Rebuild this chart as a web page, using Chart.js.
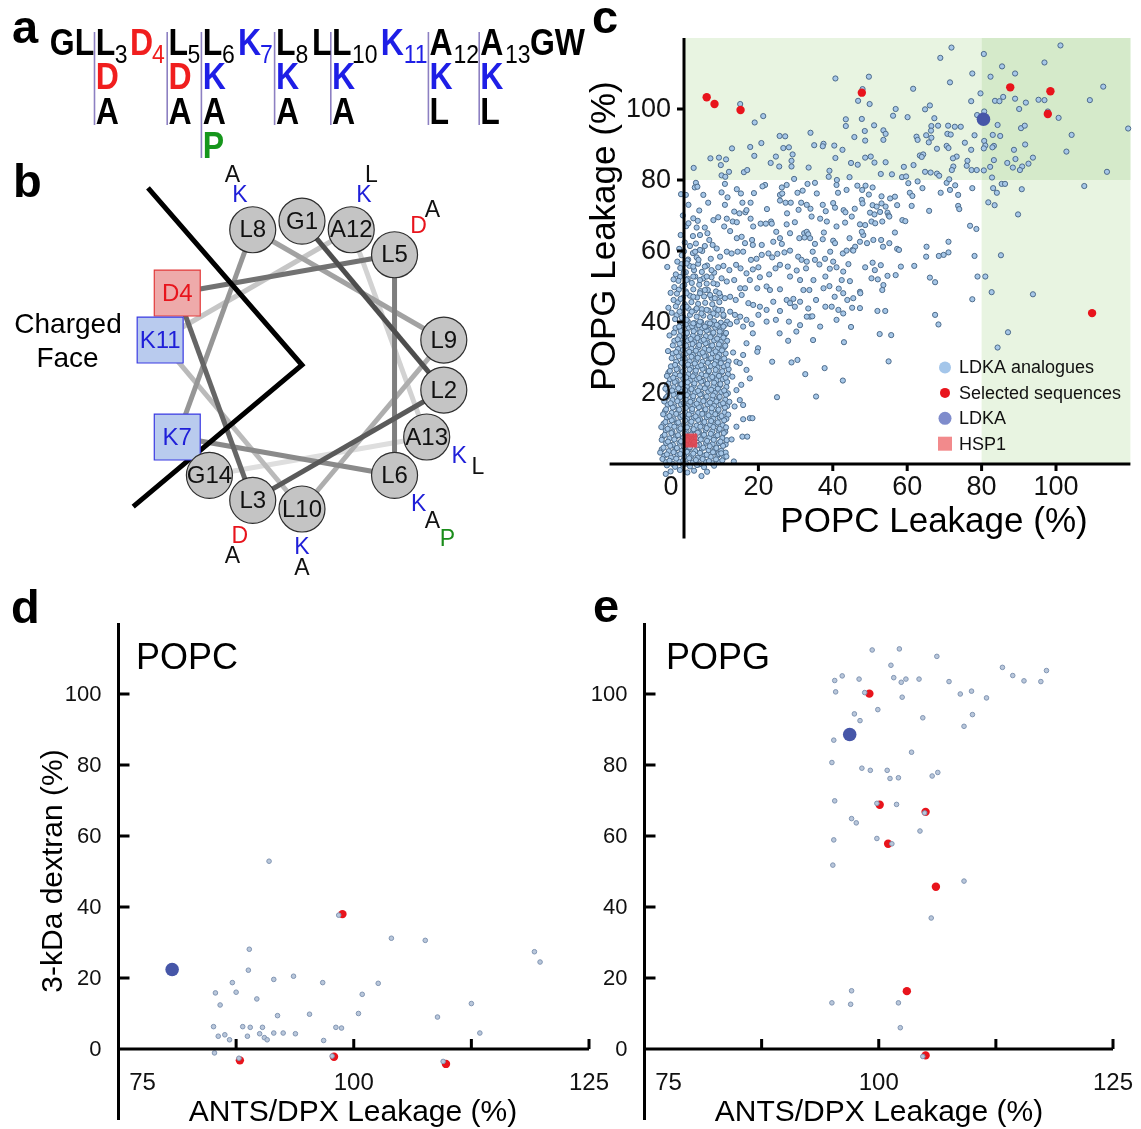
<!DOCTYPE html>
<html>
<head>
<meta charset="utf-8">
<title>LDKA analogues - membrane leakage</title>
<script src="https://cdn.jsdelivr.net/npm/chart.js@4.4.1/dist/chart.umd.min.js"></script>
<style>
  html, body { margin: 0; padding: 0; background: #fff; }
  body { position: relative; width: 1141px; height: 1129px; overflow: hidden;
         font-family: "Liberation Sans", Arial, Helvetica, sans-serif; }
  .panel { position: absolute; }
  #overlay { position: absolute; left: 0; top: 0; pointer-events: none; z-index: 2; }
</style>
</head>
<body>
<div class="panel" style="left:0;top:160px;width:520px;height:420px"><canvas id="wheel"></canvas></div>
<div class="panel" style="left:585px;top:0;width:556px;height:560px"><canvas id="scatterC"></canvas></div>
<div class="panel" style="left:0;top:590px;width:620px;height:539px"><canvas id="scatterD"></canvas></div>
<div class="panel" style="left:560px;top:590px;width:581px;height:539px"><canvas id="scatterE"></canvas></div>

<svg id="overlay" width="1141" height="1129" font-family="'Liberation Sans', Arial, sans-serif">
  <!-- panel letters -->
  <g font-weight="bold" font-size="47">
    <text x="12" y="43">a</text>
    <text x="13" y="197">b</text>
    <text x="592" y="33">c</text>
    <text x="11" y="623">d</text>
    <text x="593" y="622">e</text>
  </g>

  <!-- panel a : sequence and substitutions -->
  <g transform="scale(1,1.15)">
    <g stroke="#8d80c2" stroke-width="1.6">
      <line x1="94.5" y1="27.8" x2="94.5" y2="108.7"/>
      <line x1="167.2" y1="27.8" x2="167.2" y2="108.7"/>
      <line x1="201.4" y1="27.8" x2="201.4" y2="137.4"/>
      <line x1="274.6" y1="27.8" x2="274.6" y2="108.7"/>
      <line x1="330.8" y1="27.8" x2="330.8" y2="108.7"/>
      <line x1="428.4" y1="27.8" x2="428.4" y2="108.7"/>
      <line x1="479.2" y1="27.8" x2="479.2" y2="108.7"/>
    </g>
    <g font-weight="bold" font-size="32">
      <text x="49.8" y="47.8">GL</text>
      <text x="95.7" y="47.8">L</text>
      <text x="130" y="47.8" fill="#f01e1e">D</text>
      <text x="168.4" y="47.8">L</text>
      <text x="202.8" y="47.8">L</text>
      <text x="238" y="47.8" fill="#1e1ee6">K</text>
      <text x="276" y="47.8">L</text>
      <text x="312" y="47.8">L</text>
      <text x="332" y="47.8">L</text>
      <text x="380.8" y="47.8" fill="#1e1ee6">K</text>
      <text x="429.4" y="47.8">A</text>
      <text x="480.3" y="47.8">A</text>
      <text x="530" y="47.8">GW</text>

      <text x="95.7" y="77" fill="#f01e1e">D</text>
      <text x="168.4" y="77" fill="#f01e1e">D</text>
      <text x="202.8" y="77" fill="#1e1ee6">K</text>
      <text x="276" y="77" fill="#1e1ee6">K</text>
      <text x="332" y="77" fill="#1e1ee6">K</text>
      <text x="429.4" y="77" fill="#1e1ee6">K</text>
      <text x="480.3" y="77" fill="#1e1ee6">K</text>

      <text x="95.7" y="107.5">A</text>
      <text x="168.4" y="107.5">A</text>
      <text x="202.8" y="107.5">A</text>
      <text x="276" y="107.5">A</text>
      <text x="332" y="107.5">A</text>
      <text x="429.4" y="107.5">L</text>
      <text x="480.3" y="107.5">L</text>
    </g>
    <text x="202.8" y="137" font-weight="bold" font-size="32" fill="#16961c">P</text>
    <g font-size="23">
      <text x="114.8" y="54.8">3</text>
      <text x="152" y="54.8" fill="#f01e1e">4</text>
      <text x="187.5" y="54.8">5</text>
      <text x="222" y="54.8">6</text>
      <text x="260" y="54.8" fill="#1e1ee6">7</text>
      <text x="295.4" y="54.8">8</text>
      <text x="352" y="54.8">10</text>
      <text x="403.7" y="54.8" fill="#1e1ee6">11</text>
      <text x="453.5" y="54.8">12</text>
      <text x="505" y="54.8">13</text>
    </g>
  </g>

  <!-- panel b caption -->
  <g font-size="28" text-anchor="middle">
    <text x="68" y="333">Charged</text>
    <text x="67.5" y="367">Face</text>
  </g>

  <!-- axis titles -->
  <text transform="translate(615,236) rotate(-90)" text-anchor="middle" font-size="35">POPG Leakage (%)</text>
  <text x="934" y="532" text-anchor="middle" font-size="35">POPC Leakage (%)</text>
  <text transform="translate(62,871) rotate(-90)" text-anchor="middle" font-size="30">3-kDa dextran (%)</text>
  <text x="353" y="1121" text-anchor="middle" font-size="30">ANTS/DPX Leakage (%)</text>
  <text x="879" y="1121" text-anchor="middle" font-size="30">ANTS/DPX Leakage (%)</text>
  <text x="136" y="669" font-size="36">POPC</text>
  <text x="666" y="669" font-size="36">POPG</text>
</svg>

<script>
// ---------- panel b : helical wheel ----------
const wheelResidues = ["G1", "L2", "L3", "D4", "L5", "L6", "K7", "L8", "L9", "L10", "K11", "A12", "A13", "G14"];
const wheelAngles = [90, -10, -110, 150, 50, -50, -150, 110, 10, -90, 170, 70, -30, -130];
const chargedResidues = ["D4", "K7", "K11"];
const substitutions = {
  L3: ["D", "A"], L5: ["D", "A"], L6: ["K", "A", "P"], L8: ["K", "A"],
  L10: ["K", "A"], A12: ["K", "L"], A13: ["K", "L"]
};
const faceAngles = [131, 220];
const faceReach = [1.63, 1.53];

// ---------- panel c : POPC vs POPG leakage ----------
const popcTickLabels = [0, 20, 40, 60, 80, 100];
const popgTickLabels = [20, 40, 60, 80, 100];

const analoguesTop = [
  [71.9,117.3],[101.2,117.9],[80.6,115.5],[68.9,114.4],[96.9,113.1],[85.5,112.0],[89.0,110.0],[77.5,110.0],[82.4,109.1],[40.7,108.6],
  [49.7,109.1],[71.5,107.5],[61.6,105.7],[112.7,106.3],[79.7,104.4],[48.0,105.6],[85.8,103.4],[89.0,102.9],[95.3,102.6],[96.9,102.5],
  [109.1,102.5],[83.6,102.3],[84.8,102.2],[91.9,101.8],[77.2,102.2],[46.8,102.3],[15.1,101.4],[49.9,101.4],[66.1,101.0],[64.8,99.9],
  [90.1,100.0],[80.7,99.3],[56.9,100.0],[97.8,99.3],[21.3,98.0],[56.2,98.1],[60.1,97.7],[67.3,97.4],[78.8,98.3],[100.7,97.5],
  [43.5,97.1],[47.8,97.2],[19.0,96.2],[43.5,95.2],[51.1,95.4],[66.5,95.2],[68.3,95.3],[71.0,95.3],[72.8,95.0],[74.4,95.0],
  [84.3,95.5],[90.6,94.6],[91.6,95.3],[119.4,94.5],[48.6,93.8],[53.6,94.0],[66.4,93.9],[34.0,93.3],[25.7,92.4],[27.2,92.3],
  [54.2,93.0],[65.1,92.6],[70.8,93.0],[71.7,92.8],[78.1,92.6],[83.0,92.7],[85.0,92.4],[104.2,92.7],[45.8,92.1],[62.5,92.2],
  [66.5,91.9],[62.8,91.3],[48.7,91.1],[53.6,91.3],[65.8,90.6],[75.5,90.5],[80.7,91.0],[91.7,90.0],[37.5,90.2],[35.0,89.8],
  [37.3,89.5],[40.4,89.7],[12.9,88.9],[17.8,89.3],[20.8,90.4],[26.7,89.0],[28.2,89.2],[42.6,88.5],[68.0,88.8],[70.6,89.6],
  [71.1,89.0],[77.2,88.5],[81.0,89.7],[83.3,89.6],[88.7,88.5],[80.6,88.9],[82.9,89.2],[102.8,88.0],[29.2,87.2],[18.9,86.8],
  [24.7,86.6],[40.7,86.2],[48.7,86.3],[50.2,86.6],[63.4,86.9],[64.3,87.2],[63.9,86.5],[73.3,86.6],[72.3,86.1],[7.1,86.1],
  [9.4,86.3],[11.3,85.8],[23.3,84.8],[28.9,85.4],[44.9,84.8],[46.7,84.3],[51.2,84.9],[54.2,85.0],[76.2,85.4],[83.3,85.6],
  [86.9,84.8],[89.1,85.9],[93.8,86.3],[9.9,84.2],[25.6,83.8],[28.9,83.8],[33.5,83.5],[72.4,83.8],[76.0,84.0],[92.6,84.6],
  [90.9,83.8],[88.4,83.5],[2.6,83.4],[12.1,82.3],[16.1,82.2],[17.0,82.8],[39.1,82.6],[59.1,83.7],[61.7,84.2],[72.0,82.8],
  [77.3,82.8],[78.7,82.8],[80.6,82.7],[82.3,83.7],[90.3,82.8],[113.7,82.3],[10.1,81.3],[11.1,80.9],[38.9,80.9],[44.5,80.8],
  [41.1,80.0],[52.9,81.7],[55.9,81.6],[58.6,80.8],[59.7,81.0],[64.8,82.3],[66.3,82.1],[68.0,81.8],[68.6,81.2],[71.3,80.2],
  [82.8,80.7],[29.6,80.3]
];

const analoguesMid = [
  [3.2,79.2],[11.0,78.9],[21.8,78.6],[27.6,78.6],[26.3,77.9],[33.2,78.9],[35.2,79.2],[41.0,78.6],[46.6,78.4],[48.8,78.4],
  [50.7,77.9],[60.3,79.1],[62.8,79.6],[70.6,79.2],[72.9,78.5],[77.5,77.7],[83.1,77.7],[85.4,78.9],[86.3,78.9],[90.8,77.4],
  [107.6,78.3],[2.9,77.9],[3.6,78.1],[14.2,77.4],[18.8,76.3],[15.3,76.2],[10.1,76.5],[11.7,75.1],[21.1,78.2],[25.8,75.8],
  [26.4,76.2],[30.5,76.4],[31.9,77.0],[35.7,76.2],[41.4,76.4],[43.7,77.2],[47.9,77.2],[49.7,75.9],[53.1,75.4],[55.4,74.8],
  [56.7,75.3],[60.7,76.4],[61.4,75.5],[64.1,77.7],[69.0,76.4],[71.5,77.2],[73.7,75.8],[84.1,76.4],[0.5,75.8],[5.2,75.8],
  [6.5,73.6],[11.0,73.0],[15.7,73.6],[17.9,73.6],[25.8,74.2],[27.3,73.6],[28.7,73.6],[31.5,73.6],[33.0,73.0],[37.3,73.0],
  [40.1,73.5],[40.6,72.2],[47.8,74.4],[48.0,73.4],[50.7,72.9],[51.8,72.5],[53.1,73.4],[54.2,72.5],[57.3,72.9],[61.2,72.7],
  [73.7,72.7],[74.0,71.8],[81.8,73.7],[83.5,72.9],[4.1,71.4],[13.5,71.1],[14.9,70.6],[16.5,70.9],[16.8,71.5],[22.3,71.8],
  [27.7,70.6],[30.8,71.6],[34.0,71.9],[38.1,71.2],[42.9,71.5],[43.4,70.9],[45.9,71.9],[50.0,70.8],[51.2,70.3],[52.7,71.0],
  [54.7,70.8],[55.0,70.0],[65.9,71.3],[89.8,70.3],[2.5,69.2],[3.7,68.5],[1.2,67.8],[7.9,68.7],[9.2,69.5],[11.5,69.1],
  [13.1,68.3],[14.2,68.1],[17.9,69.1],[18.6,66.9],[20.6,67.7],[22.0,67.7],[23.4,68.3],[23.6,67.7],[24.8,65.4],[28.5,65.0],
  [29.8,68.1],[27.6,67.5],[32.3,65.0],[33.0,65.4],[33.4,64.7],[34.3,69.7],[36.6,69.1],[38.4,68.3],[41.0,66.9],[43.3,68.0],
  [45.1,69.7],[47.3,67.5],[48.7,67.3],[50.4,68.3],[51.4,67.8],[53.3,68.3],[55.2,69.7],[56.7,65.2],[58.7,68.7],[59.5,68.4],
  [76.9,67.1],[78.6,66.2],[3.4,66.6],[5.6,66.6],[4.3,64.5],[6.3,65.0],[10.8,66.9],[12.4,65.6],[14.2,63.6],[15.5,64.0],
  [16.4,62.2],[18.3,63.1],[18.5,61.7],[20.9,61.7],[24.0,62.6],[25.8,63.6],[26.3,62.0],[31.0,63.6],[32.4,63.8],[33.9,63.6],
  [35.2,62.0],[37.3,63.3],[37.6,65.2],[40.1,62.9],[40.6,62.2],[44.5,63.6],[45.3,60.3],[46.0,61.2],[47.3,62.6],[48.2,64.5],
  [47.8,65.4],[49.2,62.2],[50.9,63.1],[53.0,63.1],[53.5,61.2],[55.2,62.2],[57.3,60.6],[57.8,60.3],[65.2,61.2],[65.1,58.4],
  [68.5,58.6],[69.8,58.9],[71.1,59.6],[71.1,62.6],[78.1,58.6],[85.2,58.8],[1.6,61.4],[3.0,59.8],[4.3,60.3],[5.6,61.4],
  [6.8,63.1],[7.7,61.7],[8.8,60.7],[9.7,58.4],[11.5,59.8],[12.8,59.3],[14.4,59.8],[15.9,59.8],[18.0,57.5],[19.5,57.8],
  [20.9,58.9],[22.7,59.3],[23.7,58.2],[25.1,59.2],[27.0,59.6],[28.5,60.1],[30.7,58.4],[31.6,57.5],[33.0,57.0],[34.6,59.8],
  [35.2,57.5],[37.9,57.8],[39.3,59.8],[40.1,57.0],[42.7,59.3],[43.7,60.1],[44.2,56.3],[45.5,60.1],[48.7,55.4],[50.7,56.7],
  [51.3,54.6],[52.9,56.0],[54.7,53.0],[56.9,53.2],[58.3,55.6],[61.9,55.8],[66.1,52.5],[67.5,51.2],[78.9,52.8],[81.0,52.8],
  [0.7,56.5],[2.5,55.6],[3.9,57.5],[5.6,55.6],[7.4,54.6],[9.2,55.4],[10.6,55.8],[12.2,54.6],[14.0,56.1],[15.2,55.1],
  [16.8,53.7],[18.5,54.8],[20.0,55.4],[20.4,52.6],[22.9,53.4],[24.6,55.1],[25.8,56.1],[27.9,55.6],[28.5,52.8],[30.3,54.5],
  [31.2,51.8],[32.8,55.1],[34.8,51.8],[36.4,56.2],[38.0,52.8],[39.2,55.0],[41.0,55.4],[42.4,51.8],[42.8,54.2],[44.6,51.5],
  [47.3,48.5],[50.4,52.3],[52.1,52.0],[53.6,50.4],[0.7,51.8],[2.5,52.8],[4.3,51.8],[6.1,52.8],[7.9,50.9],[10.1,52.3],
  [11.5,51.4],[13.5,51.8],[15.1,49.5],[16.4,49.5],[17.7,51.8],[19.7,49.5],[22.2,50.0],[23.1,49.0],[25.8,49.2],[27.6,46.2],
  [29.4,46.5],[32.1,49.0],[33.7,49.0],[35.5,46.2],[37.5,49.5],[39.1,50.1],[40.5,47.1],[41.6,49.4],[42.8,48.1],[45.5,46.7],
  [47.3,43.9],[43.9,46.2],[47.4,48.1],[53.3,49.0],[82.7,48.4],[93.8,47.8],[77.5,46.4],[0.7,48.1],[2.5,47.1],[4.3,48.1],
  [5.6,49.0],[7.0,47.6],[8.3,46.7],[9.5,48.1],[11.0,46.7],[12.4,47.1],[13.9,46.2],[15.5,47.6],[17.3,45.3],[18.6,44.8],
  [20.4,44.3],[22.2,43.4],[24.0,45.7],[25.8,43.1],[28.5,45.3],[29.8,44.3],[31.2,45.7],[33.4,43.8],[33.9,41.5],[34.5,41.6],
  [38.0,44.3],[39.7,44.3],[41.5,43.4],[42.8,42.4],[45.2,44.0],[52.0,43.1],[54.1,43.1],[67.5,42.0],[68.4,39.3],[0.7,44.3],
  [2.1,42.9],[3.4,43.8],[4.7,42.4],[6.1,43.4],[7.9,42.4],[9.2,43.4],[10.6,42.0],[12.4,42.9],[13.7,42.0],[15.1,41.5],
  [16.8,40.6],[18.2,39.4],[20.0,42.0],[22.2,40.1],[24.7,40.6],[28.2,40.1],[31.2,39.1],[33.0,41.5],[36.6,38.7],[41.0,40.6],
  [44.9,38.6],[0.7,40.6],[2.5,39.6],[4.3,40.1],[5.6,38.7],[7.0,39.6],[8.8,39.2],[10.6,38.7],[12.4,39.4],[14.2,40.1],
  [15.9,38.7]
];

const analoguesCluster = [
  [-3.6,-2.1],[-1.1,-1.7],[0.9,-2.4],[2.7,-1.9],[6.2,-2.2],
  [-4.6,-0.4],[-2.4,-0.8],[-0.3,-0.2],[1.6,-0.7],[3.5,-0.3],[5.4,-0.9],[8.1,-0.5],
  [-5.8,1.4],[-3.9,0.9],[-2.1,1.5],[-0.2,1.0],[1.4,1.6],[3.2,1.1],[5.0,1.4],[6.7,0.8],[8.6,1.3],[10.3,1.0],
  [-6.4,3.2],[-4.6,2.7],[-2.8,3.3],[-1.0,2.8],[0.8,3.4],[2.5,2.9],[4.3,3.1],[6.1,2.6],[7.8,3.3],[9.4,2.8],[11.2,3.2],
  [-5.5,4.6],[-3.7,5.1],[-1.9,4.5],[-0.1,5.0],[1.6,4.7],[3.4,5.2],[5.2,4.6],[6.9,5.0],[8.7,4.5],[10.5,5.1],
  [-6.0,6.8],[-4.3,6.3],[-2.6,6.9],[-0.8,6.4],[0.9,6.7],[2.7,6.2],[4.5,6.9],[6.2,6.5],[8.0,6.8],[9.8,6.3],[11.5,6.7],
  [-5.2,8.2],[-3.4,8.7],[-1.6,8.1],[0.2,8.6],[1.9,8.3],[3.7,8.8],[5.4,8.2],[7.2,8.5],[9.0,8.1],[10.7,8.7],
  [-6.1,10.4],[-4.4,9.9],[-2.6,10.5],[-0.9,10.0],[0.8,10.3],[2.6,9.8],[4.4,10.5],[6.1,10.1],[7.9,10.4],[9.6,9.9],[11.3,10.3],
  [-5.0,11.8],[-3.3,12.3],[-1.5,11.7],[0.3,12.2],[2.0,11.9],[3.8,12.4],[5.5,11.8],[7.3,12.1],[9.1,11.7],[10.8,12.3],
  [-5.6,14.0],[-3.9,13.5],[-2.1,14.1],[-0.4,13.6],[1.3,13.9],[3.1,13.4],[4.9,14.1],[6.6,13.7],[8.4,14.0],[10.1,13.5],[11.9,13.9],
  [-4.8,15.4],[-3.0,15.9],[-1.3,15.3],[0.5,15.8],[2.2,15.5],[4.0,16.0],[5.8,15.4],[7.5,15.7],[9.3,15.3],[11.0,15.9],
  [-5.3,17.6],[-3.6,17.1],[-1.8,17.7],[-0.1,17.2],[1.7,17.5],[3.4,17.0],[5.2,17.7],[7.0,17.3],[8.7,17.6],[10.5,17.1],[12.2,17.5],
  [-4.5,19.0],[-2.8,19.5],[-1.0,18.9],[0.8,19.4],[2.5,19.1],[4.3,19.6],[6.1,19.0],[7.8,19.3],[9.6,18.9],[11.3,19.5],
  [-5.0,21.2],[-3.2,20.7],[-1.5,21.3],[0.3,20.8],[2.0,21.1],[3.8,20.6],[5.6,21.3],[7.3,20.9],[9.1,21.2],[10.8,20.7],
  [-4.2,22.6],[-2.5,23.1],[-0.7,22.5],[1.0,23.0],[2.8,22.7],[4.6,23.2],[6.3,22.6],[8.1,22.9],[9.8,22.5],[11.6,23.1],
  [-4.6,24.8],[-2.9,24.3],[-1.1,24.9],[0.6,24.4],[2.4,24.7],[4.1,24.2],[5.9,24.9],[7.6,24.5],[9.4,24.8],[11.2,24.3],
  [-3.8,26.2],[-2.0,26.7],[-0.3,26.1],[1.5,26.6],[3.2,26.3],[5.0,26.8],[6.7,26.2],[8.5,26.5],[10.3,26.1],[12.0,26.7],
  [-2.4,27.9],[-0.6,28.5],[1.1,28.0],[2.9,28.3],[4.6,27.8],[6.4,28.5],[8.2,28.1],[9.9,28.4],[11.7,27.9],
  [-3.3,29.8],[-1.5,30.3],[0.2,29.7],[2.0,30.2],[3.7,29.9],[5.5,30.4],[7.3,29.8],[9.0,30.1],[10.8,29.7],
  [-2.1,31.5],[-0.3,32.1],[1.4,31.6],[3.2,31.9],[5.0,31.4],[6.7,32.1],[8.5,31.7],[10.2,32.0],
  [-3.0,33.4],[-1.2,33.9],[0.6,33.3],[2.3,33.8],[4.1,33.5],[5.8,34.0],[7.6,33.4],[9.4,33.7],[11.1,33.3],
  [-1.7,35.1],[0.1,35.7],[1.8,35.2],[3.6,35.5],[5.3,35.0],[7.1,35.7],[8.9,35.3],[10.6,35.6],
  [-2.7,37.0],[-0.9,37.5],[0.8,36.9],[2.6,37.4],[4.4,37.1],[6.1,37.6],[7.9,37.0],[9.6,37.3],[11.3,36.9],
  [-1.3,38.7],[0.5,39.3],[2.2,38.8],[4.0,39.1],[5.8,38.6],[7.5,39.3],[9.2,38.9],[11.0,39.2],
  [-2.4,40.8],[-0.6,41.2],[-3.3,42.6],[-1.2,42.9],[-2.2,44.4],[-0.3,44.1],[-4.2,44.0],[-2.8,46.2],[-0.9,46.5],[-1.9,48.0],
  [-3.6,48.2],[-2.6,49.8],[-0.4,50.1],[-1.5,51.6],[-2.8,52.0],[-2.2,53.4],[-0.1,53.8],[-4.5,55.5],[-1.0,55.2],[-1.8,57.0],
  [0.9,57.3],[-0.6,58.8],[-1.3,60.6],[0.2,62.4],[3.2,62.1],[-0.9,64.5],[2.4,64.2],[0.6,67.0],[-0.3,70.0],[1.2,73.0],[-0.8,76.0]
];

const analoguesCore = [
  [-4.9,0.5],[-3.0,0.0],[-1.2,0.6],[0.6,0.1],[2.4,0.4],[4.1,-0.1],[5.9,0.5],[7.6,0.2],[9.3,0.6],
  [-5.3,2.3],[-3.5,1.8],[-1.7,2.5],[0.1,2.0],[1.9,2.2],[3.7,1.7],[5.5,2.4],[7.2,2.0],[9.0,2.3],[10.8,1.9],
  [-6.0,4.1],[-4.1,3.6],[-2.3,4.2],[-0.5,3.8],[1.3,4.1],[3.0,3.6],[4.8,4.3],[6.6,3.9],[8.3,4.0],[10.0,3.7],
  [-4.8,5.9],[-3.0,5.4],[-1.2,6.0],[0.6,5.5],[2.4,5.8],[4.1,5.4],[5.9,6.0],[7.7,5.6],[9.4,5.9],[11.2,5.5],
  [-5.7,7.7],[-3.9,7.2],[-2.1,7.8],[-0.3,7.3],[1.5,7.6],[3.2,7.2],[5.0,7.8],[6.8,7.4],[8.5,7.7],[10.3,7.3],
  [-4.9,9.5],[-3.1,9.0],[-1.3,9.6],[0.5,9.1],[2.3,9.4],[4.0,9.0],[5.8,9.6],[7.6,9.2],[9.3,9.5],[11.1,9.1],
  [-5.5,11.3],[-3.7,10.8],[-1.9,11.4],[-0.1,10.9],[1.7,11.2],[3.4,10.8],[5.2,11.4],[7.0,11.0],[8.7,11.3],[10.4,10.9],
  [-4.6,13.1],[-2.8,12.6],[-1.0,13.2],[0.8,12.7],[2.6,13.0],[4.3,12.6],[6.1,13.2],[7.9,12.8],[9.6,13.1],[11.4,12.7],
  [-5.1,14.9],[-3.3,14.4],[-1.5,15.0],[0.3,14.5],[2.1,14.8],[3.8,14.4],[5.6,15.0],[7.4,14.6],[9.1,14.9],[10.9,14.5],
  [-4.4,16.7],[-2.6,16.2],[-0.8,16.8],[1.0,16.3],[2.8,16.6],[4.5,16.2],[6.3,16.8],[8.1,16.4],[9.8,16.7],[11.6,16.3],
  [-4.9,18.5],[-3.1,18.0],[-1.3,18.6],[0.5,18.1],[2.3,18.4],[4.0,18.0],[5.8,18.6],[7.6,18.2],[9.3,18.5],[11.1,18.1],
  [-4.2,20.3],[-2.4,19.8],[-0.6,20.4],[1.2,19.9],[3.0,20.2],[4.7,19.8],[6.5,20.4],[8.3,20.0],[10.0,20.3],[11.8,19.9],
  [-4.6,22.1],[-2.8,21.6],[-1.0,22.2],[0.8,21.7],[2.6,22.0],[4.3,21.6],[6.1,22.2],[7.9,21.8],[9.6,22.1],[11.4,21.7],
  [-3.8,23.9],[-2.0,23.4],[-0.2,24.0],[1.6,23.5],[3.4,23.8],[5.1,23.4],[6.9,24.0],[8.7,23.6],[10.4,23.9],
  [-4.2,25.7],[-2.4,25.2],[-0.6,25.8],[1.2,25.3],[3.0,25.6],[4.7,25.2],[6.5,25.8],[8.3,25.4],[10.0,25.7],[11.8,25.3],
  [-3.5,27.5],[-1.7,27.0],[0.1,27.6],[1.9,27.1],[3.7,27.4],[5.4,27.0],[7.2,27.6],[9.0,27.2],[10.7,27.5],
  [-2.1,28.8],[-0.3,29.4],[1.5,28.9],[3.3,29.2],[5.0,28.8],[6.8,29.4],[8.6,29.0],[10.3,29.3],[12.0,28.9],
  [-3.0,31.1],[-1.2,30.6],[0.6,31.2],[2.4,30.7],[4.2,31.0],[5.9,30.6],[7.7,31.2],[9.5,30.8],[11.2,31.1],
  [-1.6,32.4],[0.2,33.0],[2.0,32.5],[3.8,32.8],[5.5,32.4],[7.3,33.0],[9.1,32.6],[10.8,32.9],
  [-2.6,34.7],[-0.8,34.2],[1.0,34.8],[2.8,34.3],[4.6,34.6],[6.3,34.2],[8.1,34.8],[9.9,34.4],[11.6,34.7],
  [-1.2,36.0],[0.6,36.6],[2.4,36.1],[4.2,36.4],[5.9,36.0],[7.7,36.6],[9.5,36.2],[11.0,36.5],
  [-2.3,38.3],[-0.5,37.8],[1.3,38.4],[3.1,37.9],[4.9,38.2],[6.6,37.8],[8.4,38.4],[10.1,38.0],
  [-0.8,39.6],[1.0,40.2],[2.8,39.7],[4.6,40.0],[6.3,39.6],[8.1,40.2],[9.9,39.8],[11.6,40.1],
  [-2.0,41.9],[-0.2,41.4],[1.6,42.0],[3.4,41.5],[5.2,41.8],[7.0,41.4],[8.8,42.0],[10.6,41.6],
  [-0.6,43.2],[1.2,43.8],[3.0,43.3],[4.8,43.6],[6.6,43.2],[8.4,43.8],[10.2,43.4],
  [-1.7,45.5],[0.2,45.0],[2.0,45.6],[3.8,45.1],[5.7,45.4],[7.6,45.0],[9.5,45.6],
  [-0.3,46.8],[1.6,47.4],[3.5,46.9],[5.4,47.2],[7.4,46.8],[9.8,47.3],
  [-1.4,49.1],[0.5,48.6],[2.5,49.2],[4.4,48.7],[6.4,49.0],[8.6,48.6],
  [0.1,50.4],[2.1,51.0],[4.1,50.5],[6.1,50.8],[8.9,50.6],
  [-1.1,52.7],[1.0,52.2],[3.0,52.8],[5.2,52.3],[7.4,52.6],
  [0.5,54.0],[2.7,54.6],[4.8,54.1],[8.1,53.9],
  [-0.7,56.3],[1.5,55.8],[3.8,56.4],[6.2,55.9],
  [1.1,57.6],[3.4,58.2],[7.2,57.8],
  [0.0,59.9],[2.4,59.4],[4.9,60.0]
];

const analoguesLow = [
  [55.7,36.3],[25.7,36.8],[28.0,34.7],[30.2,37.3],[34.7,34.9],[43.0,34.3],[18.5,36.8],[19.9,32.6],[19.7,31.6],[16.8,34.0],
  [15.9,30.7],[14.1,28.8],[15.0,28.4],[23.7,28.8],[28.9,28.6],[30.5,29.3],[37.8,27.0],[32.6,25.3],[42.7,23.5],[55.0,28.9],
  [16.8,26.5],[17.7,24.1],[25.0,18.8],[35.5,19.0],[15.4,22.3],[14.1,20.8],[15.0,18.0],[13.6,16.2],[15.9,16.6],[17.7,12.9],
  [18.4,12.9],[15.9,12.6],[15.7,7.7],[17.0,7.7],[14.1,10.5],[13.4,0.7],[11.4,2.1],[10.0,3.0],[4.7,-3.4],[-4.9,-2.8],
  [84.3,32.8],[87.1,37.1],[52.6,36.6],[13.0,24.6],[12.8,6.9],[13.2,31.4],[-4.3,31.8],[-3.9,36.2]
];

const selectedC = [[6.1,103.3],[8.2,101.4],[15.2,99.7],[47.8,104.6],[87.7,106.1],[98.5,105.0],[97.8,98.6],[109.7,42.5]];
const ldkaC = [[80.5,97.1]];
const hsp1C = [[1.7,6.6]];
const legendLabels = ["LDKA analogues", "Selected sequences", "LDKA", "HSP1"];

// ---------- panels d, e : ANTS/DPX vs 3-kDa dextran ----------
const antsTickLabels = [75, 100, 125];
const antsTicks = [87.5, 100, 112.5, 125];
const dextranTickLabels = [0, 20, 40, 60, 80, 100];

const popcAnalogues = [
  [91.0,52.9],[98.4,37.7],[104.0,31.2],[107.6,30.6],[119.2,27.4],[119.8,24.5],[88.9,28.1],[88.8,22.2],[91.5,19.6],[93.6,20.5],
  [96.7,18.7],[102.6,18.5],[87.1,18.7],[85.3,15.8],[87.5,16.0],[85.8,12.4],[89.7,14.1],[100.9,15.4],[112.5,12.8],[91.9,9.4],
  [95.3,9.8],[100.5,10.0],[108.9,9.0],[85.1,6.3],[88.2,6.3],[89.0,6.1],[90.3,6.1],[98.1,6.1],[98.7,5.9],[85.6,3.6],
  [86.3,4.0],[86.8,2.6],[88.7,3.6],[90.0,4.3],[90.5,3.2],[90.8,2.6],[91.5,4.5],[92.5,4.5],[93.8,4.3],[96.8,2.4],
  [113.4,4.5],[85.2,-1.1],[87.8,-2.6],[97.7,-2.0],[109.5,-3.5]
];
const popcSelected = [[98.8,38.0],[87.9,-3.2],[97.9,-2.2],[109.8,-4.2]];
const popcLdka = [[80.7,22.4]];

const popgAnalogues = [
  [99.3,112.4],[102.2,112.7],[106.2,110.6],[101.3,108.1],[113.2,107.5],[117.9,106.6],[96.1,105.1],[114.3,105.2],[95.3,103.8],[97.9,104.2],
  [101.6,104.6],[102.9,104.2],[104.3,104.2],[102.4,103.3],[107.5,103.5],[115.5,103.7],[117.3,103.5],[95.4,100.6],[98.5,100.4],[108.7,100.0],
  [109.9,100.8],[102.5,99.1],[111.5,98.9],[99.9,95.6],[97.4,94.4],[110.0,94.2],[98.0,92.5],[104.7,93.3],[109.1,90.9],[95.2,87.0],
  [103.5,83.6],[95.0,80.7],[98.2,79.1],[99.1,78.5],[100.9,78.5],[106.3,77.9],[105.7,76.9],[101.2,76.2],[102.1,76.4],[95.3,69.9],
  [99.8,69.2],[101.9,68.9],[104.9,66.5],[97.1,64.9],[97.6,63.7],[104.4,61.4],[99.8,59.3],[95.2,58.9],[101.4,57.8],[95.1,51.8],
  [109.1,47.3],[105.6,36.9],[97.1,16.4],[95.0,13.0],[97.0,12.6],[102.1,13.0],[102.3,6.0],[104.7,-2.1]
];
const popgSelected = [[99.0,100.1],[100.1,68.8],[105.0,66.8],[101.0,57.8],[106.1,45.7],[103.0,16.3],[105.0,-1.8]];
const popgLdka = [[96.9,88.6]];

// ---------- helpers ----------
const FONT = '"Liberation Sans", Arial, Helvetica, sans-serif';
const toXY = (pairs) => pairs.map(p => ({ x: p[0], y: p[1] }));
const rad = (deg) => deg * Math.PI / 180;

Chart.defaults.font.family = FONT;
Chart.defaults.animation = false;

const baseOptions = (padding, xr, yr) => ({
  responsive: true,
  maintainAspectRatio: false,
  events: [],
  layout: { padding, autoPadding: false },
  scales: {
    x: { type: "linear", display: false, min: xr[0], max: xr[1] },
    y: { type: "linear", display: false, min: yr[0], max: yr[1] }
  },
  plugins: { legend: { display: false }, tooltip: { enabled: false } }
});

// axis lines, ticks and labels drawn on the chart's own scales
function crossAxes(spec) {
  return {
    id: "crossAxes",
    afterDatasetsDraw(chart) {
      const { ctx, chartArea: area } = chart;
      const xs = chart.scales.x, ys = chart.scales.y;
      const ax = xs.getPixelForValue(spec.yAxisAt);
      const ay = ys.getPixelForValue(spec.xAxisAt);
      ctx.save();
      ctx.strokeStyle = "#000";
      ctx.lineWidth = 3;
      ctx.beginPath();
      ctx.moveTo(area.left, ay); ctx.lineTo(area.right, ay);
      ctx.moveTo(ax, area.top); ctx.lineTo(ax, area.bottom);
      spec.xTicks.forEach(v => {
        const px = xs.getPixelForValue(v);
        ctx.moveTo(px, ay); ctx.lineTo(px, ay + spec.xTickLen);
      });
      spec.yTicks.forEach(v => {
        const py = ys.getPixelForValue(v);
        ctx.moveTo(ax, py); ctx.lineTo(ax + spec.yTickLen, py);
      });
      ctx.stroke();

      ctx.fillStyle = "#111";
      ctx.textBaseline = "middle";
      ctx.textAlign = "center";
      ctx.font = spec.xFont;
      spec.xLabels.forEach(v => {
        const shift = spec.xShift[v] || 0;
        ctx.fillText(String(v), xs.getPixelForValue(v) + shift, ay + spec.xLabelGap);
      });
      ctx.textAlign = "right";
      ctx.font = spec.yFont;
      spec.yLabels.forEach(v => {
        ctx.fillText(String(v), ax - spec.yLabelGap, ys.getPixelForValue(v) + 1);
      });
      ctx.restore();
    }
  };
}

// ---------- panel b chart ----------
(function () {
  const pos = wheelAngles.map(a => ({ x: Math.cos(rad(a)), y: Math.sin(rad(a)) }));
  const datasets = [];

  // backbone links, dark (first) to light (last); darker drawn on top
  for (let i = 0; i < pos.length - 1; i++) {
    const g = Math.round(78 + i * (222 - 78) / (pos.length - 2));
    datasets.push({
      data: [pos[i], pos[i + 1]],
      showLine: true,
      borderColor: `rgb(${g},${g},${g})`,
      borderWidth: 5,
      pointRadius: 0,
      clip: false,
      order: 2 + i
    });
  }

  // charged face marker
  datasets.push({
    data: [
      { x: faceReach[0] * Math.cos(rad(faceAngles[0])), y: faceReach[0] * Math.sin(rad(faceAngles[0])) },
      { x: 0, y: 0 },
      { x: faceReach[1] * Math.cos(rad(faceAngles[1])), y: faceReach[1] * Math.sin(rad(faceAngles[1])) }
    ],
    showLine: true,
    borderColor: "#000",
    borderWidth: 5,
    borderJoinStyle: "miter",
    pointRadius: 0,
    clip: false,
    order: 1
  });

  const plain = [], charged = [];
  wheelResidues.forEach((r, i) => (chargedResidues.includes(r) ? charged : plain).push({ ...pos[i], r }));

  datasets.push({
    data: plain,
    pointStyle: "circle",
    pointRadius: 23,
    pointBackgroundColor: "#c4c4c4",
    pointBorderColor: "#2e2e2e",
    pointBorderWidth: 1.2,
    clip: false,
    order: 0
  });
  datasets.push({
    data: charged,
    pointStyle: "rect",
    pointRadius: 32.5,
    pointBackgroundColor: charged.map(p => p.r[0] === "D" ? "#eeaaaa" : "#b9cbee"),
    pointBorderColor: charged.map(p => p.r[0] === "D" ? "#e23a3a" : "#3a3ae2"),
    pointBorderWidth: 1.2,
    clip: false,
    order: 0
  });

  const letterColor = (t) => t[0] === "D" ? "#e8141c" : t[0] === "K" ? "#1f1fd8" : t[0] === "P" ? "#1a8c1a" : "#111";

  const wheelText = {
    id: "wheelText",
    afterDatasetsDraw(chart) {
      const { ctx } = chart;
      const xs = chart.scales.x, ys = chart.scales.y;
      ctx.save();
      ctx.textAlign = "center";
      ctx.textBaseline = "middle";
      ctx.font = "24px " + FONT;
      wheelResidues.forEach((r, i) => {
        ctx.fillStyle = chargedResidues.includes(r) ? letterColor(r) : "#111";
        ctx.fillText(r, xs.getPixelForValue(pos[i].x), ys.getPixelForValue(pos[i].y) + 1);
      });
      const radii = [1.26, 1.41, 1.57];
      ctx.font = "23px " + FONT;
      Object.keys(substitutions).forEach(r => {
        const a = rad(wheelAngles[wheelResidues.indexOf(r)]);
        substitutions[r].forEach((t, k) => {
          ctx.fillStyle = letterColor(t);
          ctx.fillText(t, xs.getPixelForValue(radii[k] * Math.cos(a)), ys.getPixelForValue(radii[k] * Math.sin(a)) + 1);
        });
      });
      ctx.restore();
    }
  };

  new Chart(document.getElementById("wheel"), {
    type: "scatter",
    data: { datasets },
    options: baseOptions(0, [-2.097, 1.514], [-1.493, 1.424]),
    plugins: [wheelText]
  });
})();

// ---------- panel c chart ----------
(function () {
  const shading = {
    id: "shading",
    beforeDatasetsDraw(chart) {
      const { ctx, chartArea: area } = chart;
      const xs = chart.scales.x, ys = chart.scales.y;
      const x0 = xs.getPixelForValue(0), x80 = xs.getPixelForValue(80);
      const y0 = ys.getPixelForValue(0), y80 = ys.getPixelForValue(80);
      ctx.save();
      ctx.fillStyle = "#e8f4e1";
      ctx.fillRect(x80, area.top, area.right - x80, y0 - area.top);
      ctx.fillRect(x0, area.top, x80 - x0, y80 - area.top);
      ctx.fillStyle = "#d5eaca";
      ctx.fillRect(x80, area.top, area.right - x80, y80 - area.top);
      ctx.restore();
    }
  };

  const legendStyle = [
    { shape: "circle", r: 6, color: "#a4c6ea" },
    { shape: "circle", r: 5, color: "#e8141c" },
    { shape: "circle", r: 6.5, color: "#7f8ccc" },
    { shape: "rect", r: 7, color: "#f28a8c" }
  ];
  const legendBox = {
    id: "legendBox",
    afterDraw(chart) {
      const { ctx } = chart;
      ctx.save();
      ctx.font = "18px " + FONT;
      ctx.textBaseline = "middle";
      ctx.textAlign = "left";
      chart.data.datasets.forEach((ds, i) => {
        const cy = 367.5 + i * 25.4, cx = 360;
        const st = legendStyle[i];
        ctx.fillStyle = st.color;
        if (st.shape === "rect") {
          ctx.fillRect(cx - st.r, cy - st.r, 2 * st.r, 2 * st.r);
        } else {
          ctx.beginPath(); ctx.arc(cx, cy, st.r, 0, 2 * Math.PI); ctx.fill();
        }
        ctx.fillStyle = "#111";
        ctx.fillText(ds.label, 374, cy + 1);
      });
      ctx.restore();
    }
  };

  new Chart(document.getElementById("scatterC"), {
    type: "scatter",
    data: {
      datasets: [
        {
          label: legendLabels[0],
          data: toXY(analoguesCore.concat(analoguesCluster, analoguesLow, analoguesMid, analoguesTop)),
          pointRadius: 2.6, pointBorderWidth: 1,
          pointBackgroundColor: "#a6c7e8", pointBorderColor: "#4d6b8a",
          clip: false, order: 4
        },
        {
          label: legendLabels[1],
          data: toXY(selectedC),
          pointRadius: 4.2, pointBorderWidth: 0,
          pointBackgroundColor: "#e8141c",
          order: 3
        },
        {
          label: legendLabels[2],
          data: toXY(ldkaC),
          pointRadius: 6.8, pointBorderWidth: 0,
          pointBackgroundColor: "#4656a8",
          order: 2
        },
        {
          label: legendLabels[3],
          data: toXY(hsp1C),
          pointStyle: "rect", pointRadius: 9.8, pointBorderWidth: 0,
          pointBackgroundColor: "rgba(226,68,78,0.93)",
          order: 1
        }
      ]
    },
    options: baseOptions({ left: 24.6, right: 10.6, top: 38, bottom: 21.5 }, [-20, 120], [-21, 120]),
    plugins: [shading, crossAxes({
      yAxisAt: 0, xAxisAt: 0,
      xTicks: [20, 40, 60, 80, 100], xTickLen: 7,
      yTicks: [20, 40, 60, 80, 100], yTickLen: -7,
      xLabels: popcTickLabels, xShift: { 0: -13 }, xLabelGap: 24, xFont: "27px " + FONT,
      yLabels: popgTickLabels, yLabelGap: 13, yFont: "27px " + FONT
    }), legendBox]
  });
})();

// ---------- panels d and e ----------
function leakageChart(id, padding, gray, red, ldka) {
  new Chart(document.getElementById(id), {
    type: "scatter",
    data: {
      datasets: [
        {
          label: "LDKA analogues", data: toXY(gray),
          pointRadius: 2.3, pointBorderWidth: 1,
          pointBackgroundColor: "#b9c7db", pointBorderColor: "#8195b2",
          clip: false, order: 2
        },
        {
          label: "Selected sequences", data: toXY(red),
          pointRadius: 4.2, pointBorderWidth: 0,
          pointBackgroundColor: "#e8141c",
          clip: false, order: 3
        },
        {
          label: "LDKA", data: toXY(ldka),
          pointRadius: 6.8, pointBorderWidth: 0,
          pointBackgroundColor: "#4656a8",
          order: 1
        }
      ]
    },
    options: baseOptions(padding, [75, 125], [-20, 120]),
    plugins: [crossAxes({
      yAxisAt: 75, xAxisAt: 0,
      xTicks: antsTicks, xTickLen: -10,
      yTicks: [20, 40, 60, 80, 100], yTickLen: 11,
      xLabels: antsTickLabels, xShift: { 75: 24 }, xLabelGap: 34, xFont: "24px " + FONT,
      yLabels: dextranTickLabels, yLabelGap: 17, yFont: "22px " + FONT
    })]
  });
}

leakageChart("scatterD", { left: 118.5, right: 31, top: 33, bottom: 9 }, popcAnalogues, popcSelected, popcLdka);
leakageChart("scatterE", { left: 84.5, right: 28, top: 33, bottom: 9 }, popgAnalogues, popgSelected, popgLdka);
</script>
</body>
</html>
